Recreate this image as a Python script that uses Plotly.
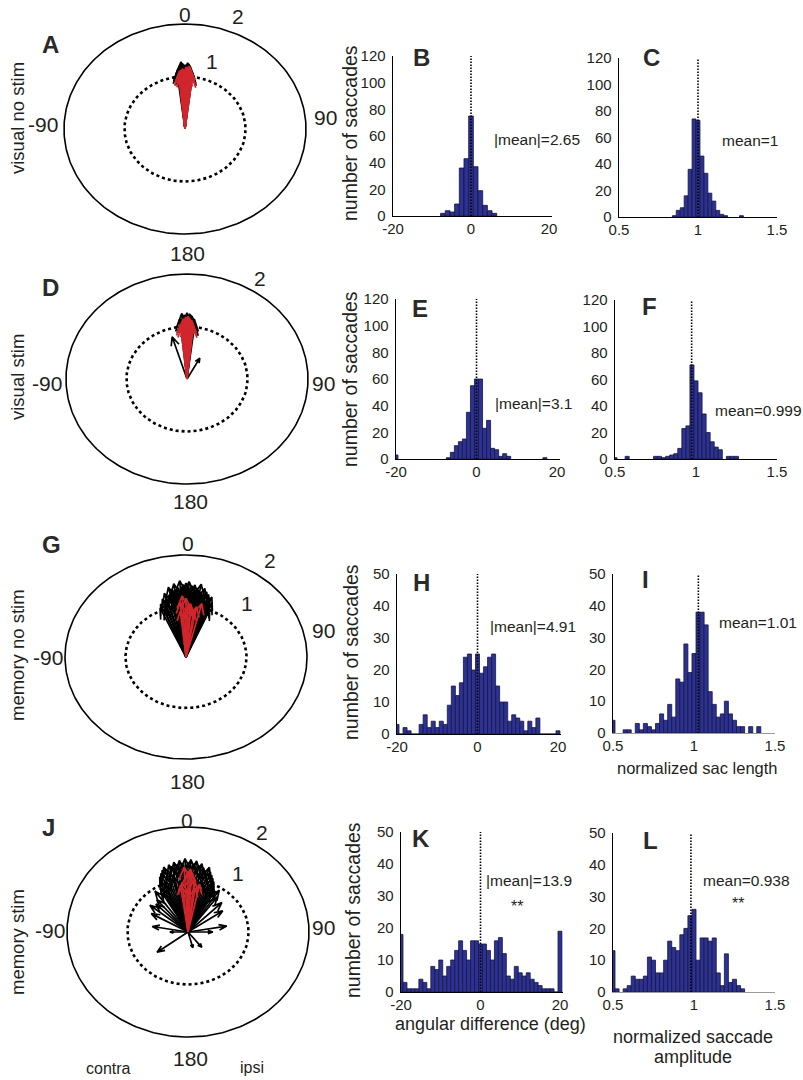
import numpy as np
import plotly.graph_objects as go

W, H = 803, 1080
FONT = "Liberation Sans, Arial, sans-serif"
TXT = "#231f20"
BLUE = "#2d3192"
RED = "#d0262c"

# ---------------- DATA ----------------
# Saccade vectors (angle in deg, clockwise from up; length normalized)
A_blk_ang = [-7, -6, -5, -4, -3, -2, -1, 0, 1, 2, 3, 4, 5, 6, 7, -3, 2, -5, 4]
A_blk_len = [1.10, 1.15, 1.18, 1.22, 1.28, 1.25, 1.20, 1.22, 1.18, 1.20, 1.24, 1.16, 1.12, 1.10, 1.05, 1.15, 1.26, 1.05, 1.2]
A_red_ang = [-6, -5, -4, -3, -2, -1, 0, 1, 2, 3, 4, 5, 6, 7, -1, 2, 4, -4, 0, 3]
A_red_len = [1.05, 1.10, 1.12, 1.08, 1.15, 1.10, 1.12, 1.18, 1.15, 1.20, 1.12, 1.10, 1.05, 1.00, 1.00, 1.08, 1.18, 1.0, 1.05, 1.02]

D_blk_ang = [-17, 28, -6, -5, -4, -3, -2, -1, 0, 1, 2, 3, 4, 5, 6, 7]
D_blk_len = [0.84, 0.45, 1.15, 1.10, 1.25, 1.18, 1.22, 1.20, 1.26, 1.20, 1.24, 1.22, 1.20, 1.12, 1.15, 1.05]
D_red_ang = [-6, -5, -4, -3, -2, -1, 0, 1, 2, 3, 4, 5, 6, -2, 2, 0]
D_red_len = [1.05, 1.00, 1.10, 1.15, 1.12, 1.18, 1.15, 1.20, 1.15, 1.10, 1.12, 1.05, 1.00, 1.00, 1.08, 0.95]

G_blk_ang = [-24, -22, -21, -19, -18, -16, -15, -13, -12, -11, -10, -9, -8, -7, -6, -5, -4, -3, -2, -1, 0, 1,
             2, 3, 4, 5, 6, 7, 8, 9, 10, 11, 12, 13, 14, 15, 16, 17, 18, 19, 20, 21, 22, 23]
G_blk_len = [1.05, 1.12, 1.00, 1.20, 1.10, 1.30, 1.18, 1.25, 1.40, 1.30, 1.35, 1.22, 1.45, 1.30, 1.38, 1.25, 1.50, 1.35, 1.42, 1.30, 1.45, 1.38,
             1.48, 1.30, 1.40, 1.28, 1.42, 1.30, 1.36, 1.20, 1.45, 1.30, 1.25, 1.38, 1.20, 1.32, 1.15, 1.28, 1.20, 1.10, 1.25, 1.05, 1.15, 1.00]
G_red_ang = [-5, 14, -3, 0, 2, 5, 8, -1, 10, -6, 4]
G_red_len = [1.08, 1.08, 1.20, 1.15, 1.00, 0.95, 0.90, 0.85, 1.00, 0.90, 1.05]

J_blk_ang = [-28, -26, -24, -22, -20, -18, -16, -14, -12, -10, -8, -6, -4, -2, 0, 2, 4, 6, 8, 10, 12, 14, 16, 18, 20, 22, 24, 26, 28,
             -23, -13, -5, 5, 13, 23, -30, 30, -51, -45, -40, -60, 36, 45, 55, -80, 80, -90, 90, -127, 142, 165, -35, 33]
J_blk_len = [0.95, 1.05, 1.15, 1.20, 1.25, 1.30, 1.22, 1.32, 1.28, 1.35, 1.30, 1.37, 1.30, 1.40, 1.32, 1.38, 1.30, 1.36, 1.28, 1.32, 1.25, 1.20, 1.28, 1.20, 1.15, 1.10, 1.05, 0.98, 0.92,
             1.00, 1.10, 1.05, 1.08, 1.00, 0.95, 0.85, 0.90, 0.81, 0.75, 0.80, 0.70, 0.82, 0.79, 0.70, 0.60, 0.65, 0.30, 0.41, 0.64, 0.37, 0.31, 0.95, 0.95]
J_red_ang = [-3, 0, 3, 12, -6, 6, 8, -1, 2, -8]
J_red_len = [1.24, 1.15, 1.10, 0.93, 0.95, 1.00, 0.85, 0.80, 1.20, 0.9]

# Histograms: angular difference (deg)
B_x = [-7.2, -6.0, -4.8, -3.6, -2.4, -1.2, 0.0, 1.2, 2.4, 3.6, 4.8, 6.0]
B_y = [2, 4, 3, 9, 36, 43, 75, 37, 19, 8, 4, 2]
E_x = [-20, -7, -6, -5, -4, -3, -2, -1, 0, 1, 2, 3, 4, 5, 6, 7, 8, 17]
E_y = [3, 1, 5, 10, 13, 15, 35, 55, 60, 60, 23, 29, 8, 7, 2, 4, 2, 1]
H_x = list(range(-20, 21))
H_y = [3, 0, 2, 1, 0, 0, 3, 6, 2, 4, 2, 4, 3, 9, 15, 12, 16, 24, 25, 20, 25,
       19, 21, 24, 25, 15, 10, 10, 4, 6, 5, 4, 1, 4, 2, 5, 0, 0, 0, 0, 1]
K_x = list(range(-20, 21))
K_y = [18, 3, 1, 1, 1, 4, 3, 1, 8, 7, 10, 5, 8, 10, 13, 16, 13, 10, 16, 16, 15,
       15, 13, 10, 16, 17, 12, 5, 4, 8, 6, 5, 6, 4, 3, 2, 1, 1, 1, 0, 19]

# Histograms: normalized saccade amplitude
C_x = [0.85, 0.875, 0.9, 0.925, 0.95, 0.975, 1.0, 1.025, 1.05, 1.075, 1.1, 1.125, 1.15, 1.175, 1.275]
C_y = [1, 5, 7, 16, 36, 74, 73, 46, 33, 18, 12, 5, 2, 1, 1]
F_x = [0.5, 0.575, 0.75, 0.775, 0.8, 0.825, 0.85, 0.875, 0.9, 0.925, 0.95, 0.975, 1.0, 1.025, 1.05,
       1.075, 1.1, 1.125, 1.15, 1.2, 1.225, 1.25]
F_y = [1, 2, 2, 2, 1, 2, 3, 4, 8, 23, 25, 71, 59, 50, 34, 20, 13, 9, 7, 2, 2, 2]
I_x = [0.5, 0.575, 0.6, 0.65, 0.675, 0.7, 0.725, 0.75, 0.775, 0.8, 0.825, 0.85, 0.875, 0.9, 0.925, 0.95,
       0.975, 1.0, 1.025, 1.05, 1.075, 1.1, 1.125, 1.15, 1.175, 1.2, 1.225, 1.25, 1.275, 1.3, 1.35, 1.4]
I_y = [4, 1, 1, 3, 1, 3, 2, 1, 3, 6, 4, 9, 5, 17, 16, 28, 19, 25, 38, 38, 34, 13, 9, 5, 6, 10, 6, 4, 2, 2, 2, 2]
L_x = [0.5, 0.525, 0.575, 0.6, 0.625, 0.65, 0.675, 0.7, 0.725, 0.75, 0.775, 0.8, 0.825, 0.85, 0.875, 0.9,
       0.925, 0.95, 0.975, 1.0, 1.025, 1.05, 1.075, 1.1, 1.125, 1.15, 1.175, 1.2, 1.225, 1.25, 1.275, 1.3]
L_y = [13, 1, 1, 2, 5, 4, 4, 5, 11, 10, 6, 6, 10, 16, 14, 13, 18, 20, 24, 26, 10, 17, 17, 16, 17, 6, 2, 12, 3, 4, 2, 1]

# mean reference lines
B_ref, C_ref, E_ref, F_ref, H_ref, I_ref, K_ref, L_ref = 0, 1.0, 0, 0.973, 0, 1.027, 0, 0.981

ANG_W = 1.0      # bin width (deg)
AMP_W = 0.025    # bin width (normalized)

mean_texts = ["|mean|=2.65", "mean=1", "|mean|=3.1", "mean=0.999",
              "|mean|=4.91", "mean=1.01", "|mean|=13.9", "mean=0.938"]
row_labels = ["visual no stim", "visual stim", "memory no stim", "memory stim"]

# ---------------- FIGURE ----------------
def hx(p):
    return p / W

def hy(p):
    return 1 - p / H

layout = dict(width=W, height=H, margin=dict(l=0, r=0, t=0, b=0, pad=0),
              paper_bgcolor="white", plot_bgcolor="rgba(0,0,0,0)",
              showlegend=False, font=dict(family=FONT, color=TXT))
fig = go.Figure()
shapes = []
annotations = []
counter = [0]


def new_axes(xpx, ypx, xr, yr, xo=None, yo=None):
    counter[0] += 1
    n = "" if counter[0] == 1 else str(counter[0])
    xa = dict(domain=[hx(xpx[0]), hx(xpx[1])], range=xr, anchor="y" + n,
              showgrid=False, zeroline=False, fixedrange=True, automargin=False)
    ya = dict(domain=[hy(ypx[1]), hy(ypx[0])], range=yr, anchor="x" + n,
              showgrid=False, zeroline=False, fixedrange=True, automargin=False)
    if xo:
        xa.update(xo)
    if yo:
        ya.update(yo)
    layout["xaxis" + n] = xa
    layout["yaxis" + n] = ya
    return "x" + n, "y" + n


def arrow_path(angs, lens):
    xs, ys = [], []
    head = [(0, 0), (1, 0), (0.8, 0.08), (1, 0), (0.8, -0.08)]
    for a, r in zip(angs, lens):
        t = np.deg2rad(a)
        ux, uy = np.sin(t), np.cos(t)
        qx, qy = np.cos(t), -np.sin(t)
        for s, q in head:
            xs.append(r * (s * ux + q * qx))
            ys.append(r * (s * uy + q * qy))
        xs.append(None)
        ys.append(None)
    return xs, ys


hidden = dict(visible=False)
polar_panels = [
    # (cx, cy, px/unit x, px/unit y, black ang, black len, red ang, red len)
    (185, 129, 60.5, 52.5, A_blk_ang, A_blk_len, A_red_ang, A_red_len),
    (187, 379, 60.5, 52.5, D_blk_ang, D_blk_len, D_red_ang, D_red_len),
    (186, 657, 60.5, 51.0, G_blk_ang, G_blk_len, G_red_ang, G_red_len),
    (188, 932, 60.5, 52.5, J_blk_ang, J_blk_len, J_red_ang, J_red_len),
]
th = np.linspace(0, 2 * np.pi, 241)
for cx, cy, sx, sy, ba, bl, ra, rl in polar_panels:
    xa, ya = new_axes((cx - 150, cx + 150), (cy - 125, cy + 125),
                      [-150 / sx, 150 / sx], [-125 / sy, 125 / sy], hidden, hidden)
    fig.add_trace(go.Scatter(x=2 * np.sin(th), y=2 * np.cos(th), mode="lines",
                             line=dict(color="black", width=1.6), xaxis=xa, yaxis=ya, hoverinfo="skip"))
    fig.add_trace(go.Scatter(x=np.sin(th), y=np.cos(th), mode="lines",
                             line=dict(color="black", width=2.6, dash="dot"), xaxis=xa, yaxis=ya, hoverinfo="skip"))
    bx, by = arrow_path(ba, bl)
    fig.add_trace(go.Scatter(x=bx, y=by, mode="lines", line=dict(color="black", width=1.7),
                             xaxis=xa, yaxis=ya, hoverinfo="skip"))
    rx, ry = arrow_path(ra, rl)
    fig.add_trace(go.Scatter(x=rx, y=ry, mode="lines", line=dict(color=RED, width=1.7),
                             xaxis=xa, yaxis=ya, hoverinfo="skip"))

hist_panels = [
    # data x, data y, width, ref, (x px of v0, v0, x px of v1, v1), xmax, (y0 px, ytop px), ymax, kind
    (B_x, B_y, 1.2, B_ref, (393, -20, 549, 20), 20.7, (216, 56), 120, "ang"),
    (C_x, C_y, AMP_W, C_ref, (619, 0.5, 777, 1.5), 1.5, (217, 58), 120, "amp"),
    (E_x, E_y, ANG_W, E_ref, (396, -20, 557, 20), 20.7, (459, 299), 120, "ang"),
    (F_x, F_y, AMP_W, F_ref, (615, 0.5, 777, 1.5), 1.5, (459, 300), 120, "amp"),
    (H_x, H_y, ANG_W, H_ref, (397, -20, 558, 20), 20.7, (734, 574), 50, "ang"),
    (I_x, I_y, AMP_W, I_ref, (613, 0.5, 775, 1.5), 1.5, (733, 574), 50, "amp"),
    (K_x, K_y, ANG_W, K_ref, (401, -20, 560, 20), 20.7, (992, 832), 50, "ang"),
    (L_x, L_y, AMP_W, L_ref, (613, 0.5, 775, 1.5), 1.5, (992, 833), 50, "amp"),
]
tickfont = dict(family=FONT, size=15, color=TXT)
for i, (hxs, hys, bw, ref, (p0, v0, p1, v1), xmax, (y0p, ytp), ymax, kind) in enumerate(hist_panels):
    xmin = v0
    scale = (p1 - p0) / (v1 - v0)
    xend = p0 + (xmax - xmin) * scale
    if kind == "ang":
        xt = dict(tickvals=[-20, 0, 20], ticktext=["-20", "0", "20"])
    else:
        xt = dict(tickvals=[0.5, 1, 1.5], ticktext=["0.5", "1", "1.5"])
    xlc = "#9a9a9a" if i in (5, 7) else "black"
    xo = dict(showline=True, linecolor=xlc, linewidth=1.4, ticks="", tickfont=tickfont,
              ticklabelstandoff=-1, **xt)
    step = 20 if ymax == 120 else 10
    yo = dict(showline=True, linecolor="black", linewidth=1.4, ticks="", tickfont=tickfont,
              ticklabelstandoff=3, tickvals=list(range(0, ymax + 1, step)))
    xa, ya = new_axes((p0, xend), (ytp, y0p), [xmin, xmax], [0, ymax], xo, yo)
    fig.add_trace(go.Bar(x=hxs, y=hys, width=bw, marker=dict(color=BLUE, line=dict(color="#141640", width=0.8)),
                         xaxis=xa, yaxis=ya, hoverinfo="skip"))
    shapes.append(dict(type="line", xref=xa, yref=ya, x0=ref, x1=ref, y0=0, y1=ymax,
                       line=dict(color="black", width=1.6, dash="1.5px,1.5px"), layer="above"))


def txt(x, y, s, size, bold=False, xanchor="center", yanchor="middle", angle=0, color=TXT):
    annotations.append(dict(x=hx(x), y=hy(y), xref="paper", yref="paper", text=("<b>%s</b>" % s) if bold else s,
                            showarrow=False, xanchor=xanchor, yanchor=yanchor, textangle=angle,
                            font=dict(family=FONT, size=size, color=color)))


# panel letters
for s, x, y in [("A", 50, 45), ("D", 50, 287), ("G", 51, 544), ("J", 48, 827),
                ("B", 421, 57), ("C", 651, 57), ("E", 420, 308), ("F", 649, 307),
                ("H", 421, 582), ("I", 645, 579), ("K", 421, 838), ("L", 650, 840)]:
    txt(x, y, s, 24, bold=True, color="#2a2a2a")

# polar tick labels
PL = 21
for s, x, y in [("0", 185, 15), ("2", 238, 17), ("1", 212, 62), ("-90", 43, 125), ("90", 325, 117), ("180", 187, 254),
                ("2", 260, 278), ("-90", 47, 383), ("90", 323, 383), ("180", 190, 501),
                ("0", 188, 543), ("2", 270, 560), ("1", 247, 603), ("-90", 48, 657), ("90", 323, 630), ("180", 187, 781),
                ("0", 187, 820), ("2", 262, 832), ("1", 238, 873), ("-90", 50, 930), ("90", 323, 927), ("180", 190, 1058)]:
    txt(x, y, s, PL)
txt(108, 1068, "contra", 16)
txt(252, 1067, "ipsi", 16)

# row labels
for s, y in zip(row_labels, [118, 377, 655, 942]):
    txt(17, y, s, 18.5, angle=-90)

# y titles
for x, y in [(350, 133), (350, 379), (351, 652), (353, 910)]:
    txt(x, y, "number of saccades", 19.5, angle=-90)

# mean annotations
for s, x, y in zip(mean_texts, [492, 720, 493, 713, 488, 717, 484, 701], [139, 140, 404, 410, 626, 622, 880, 880]):
    txt(x, y, s, 15.5, xanchor="left")
txt(517, 906, "**", 16)
txt(738, 903, "**", 16)

# x titles
txt(697, 768, "normalized sac length", 16.5)
txt(490, 1024, "angular difference (deg)", 18)
txt(693, 1037, "normalized saccade", 18)
txt(693, 1057, "amplitude", 18)

layout["shapes"] = shapes
layout["annotations"] = annotations
fig.update_layout(**layout)
fig.write_html("out.html", config={"displayModeBar": False, "staticPlot": True},
               post_script="document.body.style.margin='0';document.body.style.padding='0';"
                           "document.documentElement.style.overflow='hidden';")
